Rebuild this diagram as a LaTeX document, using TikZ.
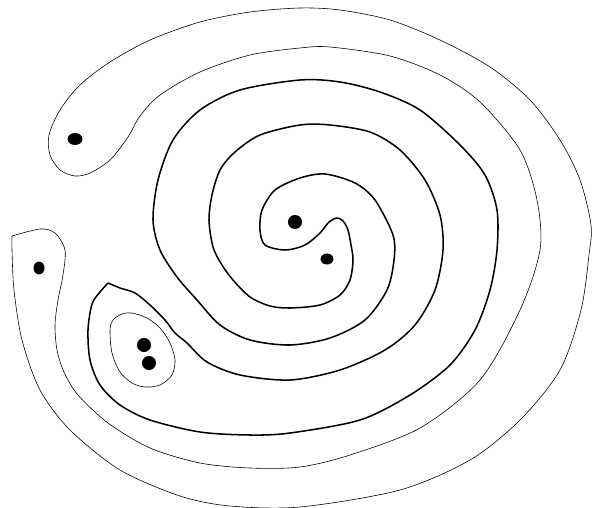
\documentclass[tikz,border=0pt]{standalone}
\usepackage{tikz}

\begin{document}
\begin{tikzpicture}[x=0.03cm,y=-0.03cm,
  fine/.style={line width=0.5pt,line join=round},
  bold/.style={line width=1.3pt,line join=round},
  blob/.style={fill=black}]
  \useasboundingbox (0,0) rectangle (592,508);
  % outer thin band
  \draw[fine,smooth] plot coordinates {(12,236)(40,229)(55,233)(65,250)(63,275)(58,300)(55,325)(57,350)(64,372)(78,395)(108,423)(150,448)(200,463)(250,468)(300,467)(350,455)(420,428)(480,380)(520,310)(540,250)(537,200)(520,150)(480,102)(440,75)(390,56)(330,47)(300,48)(250,55)(200,72)(160,95)(140,116)(128,137)(110,160)(90,173)(75,176)(60,170)(50,155)(49,135)(60,110)(80,85)(110,62)(150,40)(200,22)(250,12)(300,8)(340,10)(390,20)(440,40)(490,67)(530,100)(560,140)(580,180)(591,225)(589,255)(581,310)(560,370)(520,420)(470,460)(400,490)(300,507)(230,506)(180,496)(120,470)(70,430)(40,390)(22,340)(14,290)(12,250)(12,236)};
  % thick double spiral
  \draw[bold,smooth] plot coordinates {(108,283)(100,292)(92,304)(88,330)(90,360)(100,385)(120,405)(150,420)(200,432)(250,435)(290,433)(360,420)(410,395)(450,365)(475,330)(490,290)(497,250)(497,210)(485,175)(460,145)(420,110)(380,92)(340,82)(300,80)(240,90)(200,110)(173,140)(158,180)(153,220)(160,250)(177,277)(197,300)(220,325)(250,340)(290,345)(330,338)(365,320)(387,290)(394,260)(393,235)(375,200)(355,183)(325,174)(300,178)(275,190)(262,210)(260,230)(265,245)(285,250)(305,245)(320,233)(329,222)(337,218)(343,221)(348,230)(351,245)(353,260)(350,280)(340,295)(320,305)(290,308)(270,306)(250,297)(233,280)(222,265)(213,247)(209,220)(212,195)(220,170)(235,152)(260,135)(300,125)(330,125)(370,132)(400,150)(425,180)(440,215)(443,250)(435,290)(415,325)(385,350)(340,370)(290,380)(240,375)(207,362)(187,343)(175,333)(165,320)(150,305)(135,293)(120,288)(108,283)};
  % small loop round the pair
  \draw[fine] plot[smooth cycle] coordinates {(110,330)(113,320)(122,314)(132,313)(147,318)(160,328)(170,343)(175,360)(172,375)(160,385)(145,387)(132,383)(120,372)(112,353)};
  % points
  \fill[blob] (75,139) ellipse [x radius=6.4pt,y radius=5.1pt];
  \fill[blob] (39,268) ellipse [x radius=4.7pt,y radius=5.5pt];
  \fill[blob] (295,222) circle [radius=6pt];
  \fill[blob] (327,259) ellipse [x radius=5.5pt,y radius=4.7pt];
  \fill[blob] (144,345) circle [radius=6pt];
  \fill[blob] (149,363) circle [radius=6pt];
\end{tikzpicture}
\end{document}
